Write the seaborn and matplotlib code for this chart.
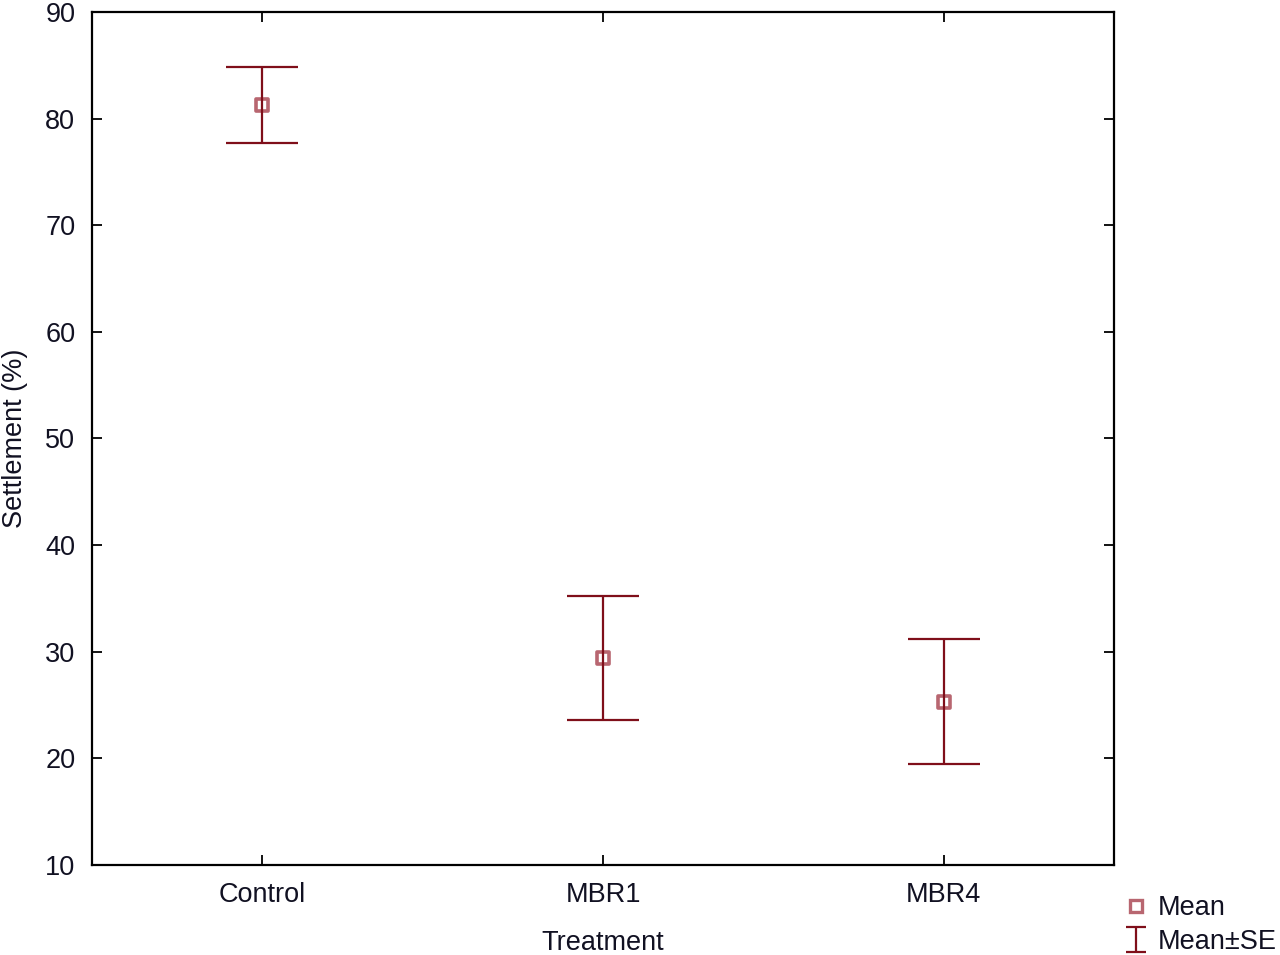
import matplotlib
matplotlib.use("Agg")
import matplotlib.pyplot as plt
import seaborn as sns
import pandas as pd
import numpy as np
from matplotlib.lines import Line2D
from matplotlib.container import ErrorbarContainer
from matplotlib.legend_handler import HandlerErrorbar

treatments = ["Control", "MBR1", "MBR4"]
means = [81.3, 29.4, 25.3]
se = [3.55, 5.8, 5.85]

y_ticks = [10, 20, 30, 40, 50, 60, 70, 80, 90]

df = pd.DataFrame({"Treatment": treatments, "Mean": means, "SE": se})

sns.set_style("ticks")
plt.rcParams["font.family"] = ["Liberation Sans", "DejaVu Sans"]
plt.rcParams["text.color"] = "#111122"
plt.rcParams["axes.labelcolor"] = "#111122"
plt.rcParams["xtick.color"] = "black"
plt.rcParams["ytick.color"] = "black"
plt.rcParams["xtick.labelcolor"] = "#111122"
plt.rcParams["ytick.labelcolor"] = "#111122"

bar_color = "#7F0F1A"
mark_color = "#B86670"

fig = plt.figure(figsize=(12.8, 9.55), dpi=100)
ax = fig.add_axes([92/1280, 1-865/955, (1114-92)/1280, (865-12)/955])

xpos = list(range(len(treatments)))
sns.scatterplot(x=xpos, y=df["Mean"], ax=ax, marker="s", s=80,
                facecolor="white", edgecolor=mark_color, linewidth=2.6,
                zorder=2, legend=False)
ax.errorbar(xpos, df["Mean"], yerr=df["SE"], fmt="none", ecolor=bar_color,
            elinewidth=1.6, capsize=26, capthick=1.6, zorder=3)
# legend proxy (not visible in plot)
eb_proxy = ax.errorbar([np.nan], [np.nan], yerr=[1], fmt="none", ecolor=bar_color,
                       elinewidth=1.6, capsize=7, capthick=1.6)

ax.set_xlim(-0.5, 2.5)
ax.set_ylim(10, 90)
ax.set_yticks(y_ticks)
ax.set_xticks(xpos)
ax.set_xticklabels(treatments)
ax.tick_params(axis="both", direction="in", length=7, width=1.3, labelsize=19.5,
               top=True, right=True)
ax.tick_params(axis="y", pad=12)
ax.tick_params(axis="x", pad=12)
for s in ax.spines.values():
    s.set_linewidth(1.6)
    s.set_color("black")
    s.set_visible(True)

ax.set_xlabel("Treatment", fontsize=19.5, labelpad=16)
ax.set_ylabel("Settlement (%)", fontsize=19.5, labelpad=12)

mean_handle = Line2D([], [], linestyle="none", marker="s", markersize=8.5,
                     markerfacecolor="white", markeredgecolor=mark_color, markeredgewidth=2.4)
fig.legend([mean_handle, eb_proxy], ["Mean", "Mean±SE"], loc="upper left",
           bbox_to_anchor=(1124/1280, 1-895/955), frameon=False, fontsize=19.5,
           handlelength=0.9, handletextpad=0.35, labelspacing=0.3, borderaxespad=0,
           borderpad=0,
           handler_map={ErrorbarContainer: HandlerErrorbar(yerr_size=0.45)})

fig.savefig("out.png", dpi=100, facecolor="white")
